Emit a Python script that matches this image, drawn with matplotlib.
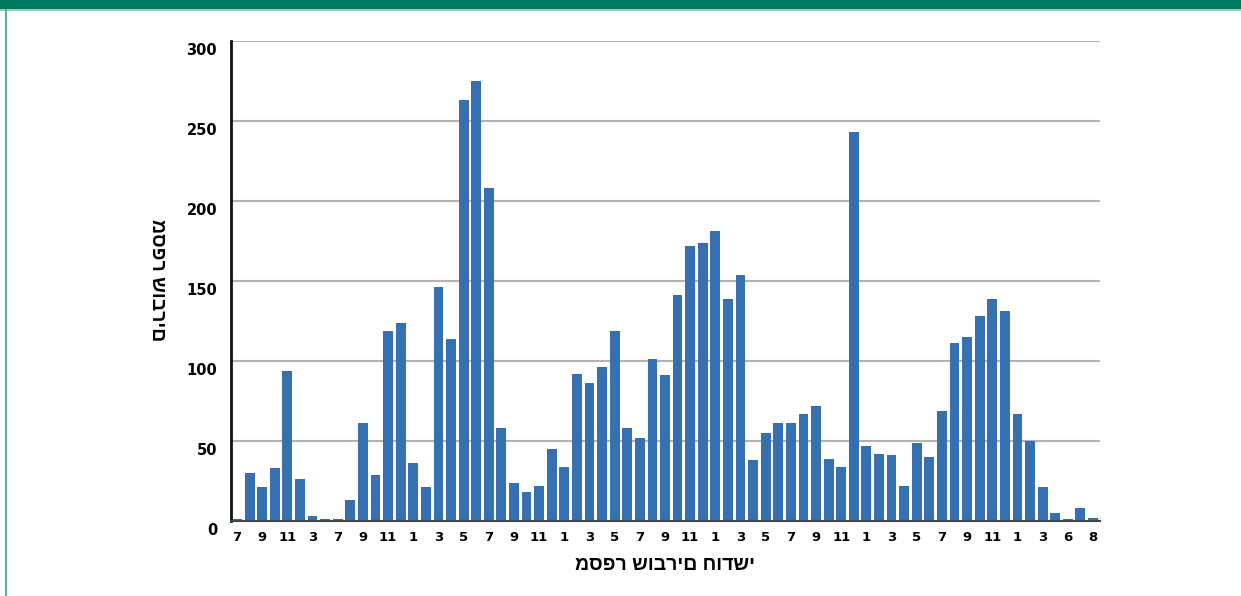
import matplotlib
matplotlib.use("Agg")
import matplotlib.pyplot as plt
import matplotlib.transforms as mtransforms
from matplotlib.patches import Rectangle
import numpy as np

values = [1, 30, 21, 33, 94, 26, 3, 1, 1, 13, 61, 29, 119, 124, 36, 21, 146, 114,
          263, 275, 208, 58, 24, 18, 22, 45, 34, 92, 86, 96, 119, 58, 52, 101, 91,
          141, 172, 174, 181, 139, 154, 38, 55, 61, 61, 67, 72, 39, 34, 243, 47, 42,
          41, 22, 49, 40, 69, 111, 115, 128, 139, 131, 67, 50, 21, 5, 1, 8, 2]
tick_labels = ["7", "9", "11", "3", "7", "9", "11", "1", "3", "5", "7", "9", "11",
               "1", "3", "5", "7", "9", "11", "1", "3", "5", "7", "9", "11", "1",
               "3", "5", "7", "9", "11", "1", "3", "6", "8"]
y_ticks = [0, 50, 100, 150, 200, 250, 300]
x_title = "מספר שוברים חודשי"
y_title = "מספר שוברים"

heb_family = ["Liberation Sans", "DejaVu Sans"]

fig = plt.figure(figsize=(12.41, 5.96), dpi=100)
fig.patch.set_facecolor("white")

# decorative frame
fig.add_artist(Rectangle((0, 1 - 9 / 596), 1, 9 / 596, transform=fig.transFigure,
                         facecolor="#00775E", edgecolor="none"))
fig.add_artist(Rectangle((0, 1 - 10.5 / 596), 1, 1.5 / 596, transform=fig.transFigure,
                         facecolor="#8CCFBA", edgecolor="none"))
fig.add_artist(Rectangle((5 / 1241, 0), 2 / 1241, 1 - 9 / 596, transform=fig.transFigure,
                         facecolor="#5BAF9A", edgecolor="none"))

ax = fig.add_axes([231 / 1241, 1 - 521 / 596, (1100 - 231) / 1241, 480 / 596])
x = np.arange(len(values))
ax.bar(x, values, width=0.78, color="#366FB2", zorder=3)

ax.set_xlim(-0.48, len(values) - 1 + 0.56)
ax.set_ylim(0, 300)
ax.set_yticks(y_ticks)
ax.set_yticklabels([str(v) for v in y_ticks], fontsize=10.5, fontweight="bold",
                   family="DejaVu Sans")
ax.set_xticks(x[::2])
ax.set_xticklabels(tick_labels, fontsize=9.5, fontweight="bold", family="DejaVu Sans")
ax.tick_params(axis="both", length=0)
ax.tick_params(axis="y", pad=10)
ax.tick_params(axis="x", pad=7)

offset = mtransforms.ScaledTranslation(0, -8 / 100, fig.dpi_scale_trans)
for lab in ax.get_yticklabels():
    lab.set_transform(lab.get_transform() + offset)

ax.yaxis.grid(True, color="#B3B3B3", linewidth=1.5, zorder=0)
ax.set_axisbelow(True)
for s in ["top", "right"]:
    ax.spines[s].set_visible(False)
ax.spines["left"].set_color("#111111")
ax.spines["left"].set_linewidth(2)
ax.spines["left"].set_zorder(4)
ax.spines["bottom"].set_color("#444444")
ax.spines["bottom"].set_linewidth(1.5)
ax.spines["bottom"].set_zorder(4)

fig.text(665 / 1241, 1 - 566 / 596, x_title, ha="center", va="center",
         fontsize=14, fontweight="bold", family=heb_family)
fig.text(157 / 1241, 1 - 280 / 596, y_title, ha="center", va="center",
         rotation=270, fontsize=14, fontweight="bold", family=heb_family)

fig.savefig("out.png", dpi=100, facecolor="white")
